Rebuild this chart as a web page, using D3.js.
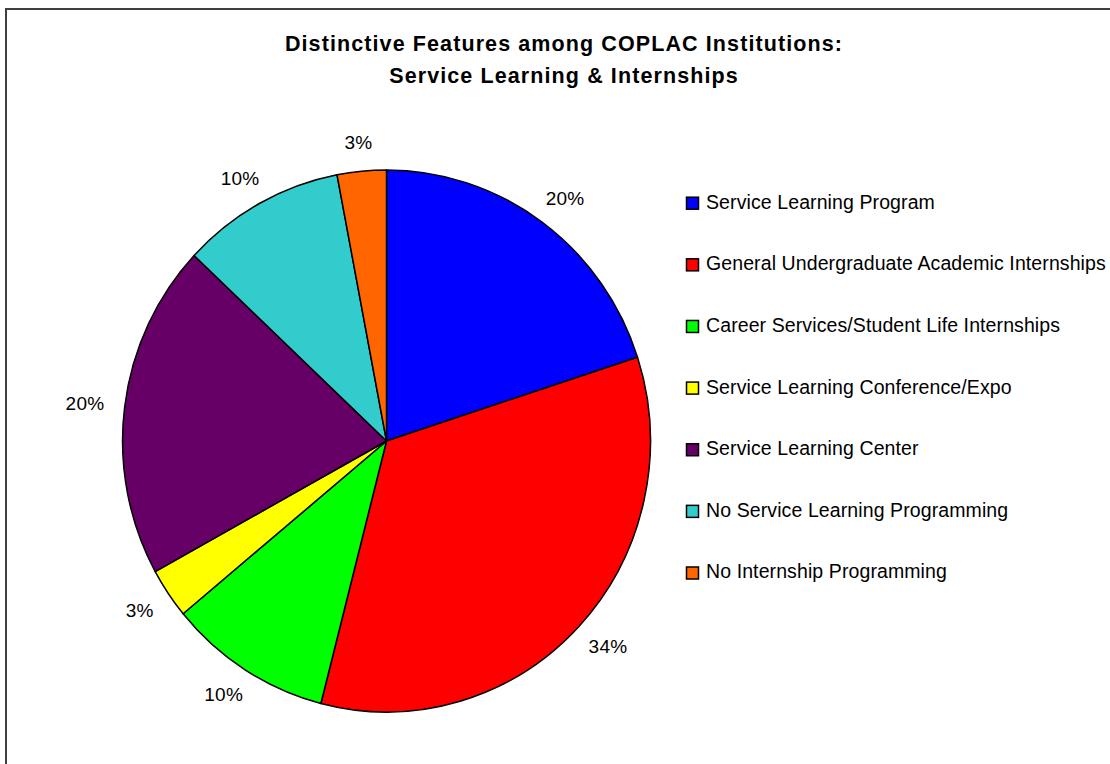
<!DOCTYPE html>
<html>
<head>
<meta charset="utf-8">
<script src="https://cdn.jsdelivr.net/npm/d3@7"></script>
<style>
  html, body { margin: 0; padding: 0; background: #fff; }
  svg { display: block; }
  text { font-family: "Liberation Sans", Arial, sans-serif; fill: #000; }
</style>
</head>
<body>
<svg id="chart" width="1110" height="764"></svg>
<script>
// Share of COPLAC institutions by distinctive feature (percent)
const categories = [
  "Service Learning Program",
  "General Undergraduate Academic Internships",
  "Career Services/Student Life Internships",
  "Service Learning Conference/Expo",
  "Service Learning Center",
  "No Service Learning Programming",
  "No Internship Programming"
];
const values = [20, 34, 10, 3, 20, 10, 3];
const colors = ["#0000FF", "#FF0000", "#00FF00", "#FFFF00", "#660066", "#33CCCC", "#FF6600"];
const titleLines = [
  "Distinctive Features among COPLAC Institutions:",
  "Service Learning & Internships"
];

const svg = d3.select("#chart");
const W = 1110, H = 764;

svg.append("rect").attr("width", W).attr("height", H).attr("fill", "#fff");

// outer chart frame
svg.append("rect")
  .attr("x", 6).attr("y", 9)
  .attr("width", 1120).attr("height", 800)
  .attr("fill", "none")
  .attr("stroke", "#404040")
  .attr("stroke-width", 2);

// title
svg.append("g").selectAll("text")
  .data(titleLines)
  .join("text")
  .attr("x", 564)
  .attr("y", (d, i) => 51 + i * 32)
  .attr("text-anchor", "middle")
  .attr("font-size", 21.5)
  .attr("font-weight", "bold")
  .attr("letter-spacing", 1.1)
  .text(d => d);

// pie
const cx = 386.5, cy = 441, r = 271, sx = 0.974;
const pie = d3.pie().sort(null).value(d => d);
const arcs = pie(values);
const arc = d3.arc().innerRadius(0).outerRadius(r);

const pieG = svg.append("g")
  .attr("transform", `translate(${cx},${cy}) scale(${sx},1)`);

pieG.selectAll("path")
  .data(arcs)
  .join("path")
  .attr("d", arc)
  .attr("fill", (d, i) => colors[i])
  .attr("stroke", "#000")
  .attr("stroke-width", 1.5)
  .attr("vector-effect", "non-scaling-stroke")
  .attr("stroke-linejoin", "round");

// percentage labels: text box pushed outward from a point just past the rim
const gap = 21, halfH = 8;
const total = d3.sum(values);
const labels = svg.append("g").selectAll("text")
  .data(arcs)
  .join("text")
  .attr("text-anchor", "middle")
  .attr("font-size", 19)
  .attr("letter-spacing", 0.3)
  .text(d => Math.round(d.data / total * 100) + "%");

labels.each(function(d) {
  const a = (d.startAngle + d.endAngle) / 2;
  const halfW = this.getComputedTextLength() / 2;
  const R = r + gap;
  const x = cx + sx * R * Math.sin(a) + Math.sin(a) * halfW;
  const y = cy - R * Math.cos(a) - Math.cos(a) * halfH;
  d3.select(this).attr("x", x).attr("y", y + 7);
});

// legend
const rowY = d3.scaleLinear().domain([0, categories.length - 1]).range([201.7, 571.5]);
const legend = svg.append("g");
const rows = legend.selectAll("g")
  .data(categories)
  .join("g")
  .attr("transform", (d, i) => `translate(0,${rowY(i)})`);

rows.append("rect")
  .attr("x", 686.5).attr("y", -4.5)
  .attr("width", 12).attr("height", 12)
  .attr("fill", (d, i) => colors[i])
  .attr("stroke", "#000")
  .attr("stroke-width", 1.5);

rows.append("text")
  .attr("x", 706)
  .attr("y", 6.9)
  .attr("font-size", 19.5)
  .attr("letter-spacing", 0.1)
  .text(d => d);
</script>
</body>
</html>
